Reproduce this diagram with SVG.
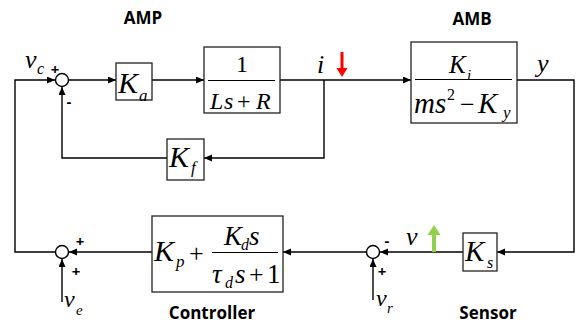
<svg xmlns="http://www.w3.org/2000/svg" width="576" height="325" viewBox="0 0 576 325">
<defs>
<style>
.ln{fill:none;stroke:#000;stroke-width:1.4}
.bx{fill:#fff;stroke:#222;stroke-width:1.3}
.fr{stroke:#000;stroke-width:1.2}
.sum{fill:#fff;stroke:#000;stroke-width:1.4}
.m{font-family:"Liberation Serif",serif;font-style:italic;fill:#000}
.r{font-family:"Liberation Serif",serif;fill:#000}
.lb{font-family:"Open Sans","Noto Sans",sans-serif;font-weight:bold;font-size:17px;fill:#000;text-anchor:middle}
.sg{font-family:"Open Sans","Noto Sans",sans-serif;font-weight:bold;font-size:15px;fill:#000;text-anchor:middle}
</style>
<marker id="ah" markerWidth="8" markerHeight="8" refX="8" refY="3.5" orient="auto" markerUnits="userSpaceOnUse">
<path d="M0,0 L8,3.5 L0,7 z" fill="#000"/>
</marker>
</defs>
<rect width="576" height="325" fill="#fff"/>

<g id="connectors">
<path class="ln" d="M55,252 L15,252 L15,80 L55,80" marker-end="url(#ah)"/>
<path class="ln" d="M68.5,80 L116,80" marker-end="url(#ah)"/>
<path class="ln" d="M152,80 L204,80" marker-end="url(#ah)"/>
<path class="ln" d="M280,80 L411,80" marker-end="url(#ah)"/>
<path class="ln" d="M324,80 L324,158 L204,158" marker-end="url(#ah)"/>
<path class="ln" d="M167,158 L62,158 L62,87" marker-end="url(#ah)"/>
<path class="ln" d="M517,80 L574,80 L574,252 L497,252" marker-end="url(#ah)"/>
<path class="ln" d="M463,252 L380,252" marker-end="url(#ah)"/>
<path class="ln" d="M366.5,252 L283,252" marker-end="url(#ah)"/>
<path class="ln" d="M152,252 L69,252" marker-end="url(#ah)"/>
<path class="ln" d="M62,302 L62,259" marker-end="url(#ah)"/>
<path class="ln" d="M373,300 L373,259" marker-end="url(#ah)"/>
</g>

<g id="sum1">
<circle class="sum" cx="62" cy="80" r="6.5"/>
<text class="sg" x="55" y="75">+</text>
<text class="sg" x="69" y="107">-</text>
</g>

<g id="sum2">
<circle class="sum" cx="62" cy="252" r="6.5"/>
<text class="sg" x="80" y="247">+</text>
<text class="sg" x="76" y="277">+</text>
</g>

<g id="sum3">
<circle class="sum" cx="373" cy="252" r="6.5"/>
<text class="sg" x="387" y="246">-</text>
<text class="sg" x="382" y="277">+</text>
</g>

<g id="labels">
<text class="lb" x="143" y="24">AMP</text>
<text class="lb" x="472" y="25">AMB</text>
<text class="lb" x="212" y="319">Controller</text>
<text class="lb" x="488" y="319">Sensor</text>
<text class="m" x="25" y="68" font-size="26">v</text>
<text class="m" x="37" y="74" font-size="16">c</text>
<text class="m" x="317" y="73" font-size="26">i</text>
<text class="m" x="537" y="72" font-size="26">y</text>
<text class="m" x="406" y="245" font-size="26">v</text>
<text class="m" x="64" y="307" font-size="24">v</text>
<text class="m" x="76" y="315" font-size="15">e</text>
<text class="m" x="376" y="306" font-size="24">v</text>
<text class="m" x="387" y="313" font-size="15">r</text>
</g>

<g id="Ka">
<rect class="bx" x="116" y="63" width="36" height="37"/>
<text class="m" x="118" y="93" font-size="30">K</text>
<text class="m" x="139" y="101" font-size="17">a</text>
</g>

<g id="plant_coil">
<rect class="bx" x="204" y="47" width="76" height="66"/>
<line class="fr" x1="208" y1="80.5" x2="275" y2="80.5"/>
<text class="r" x="242" y="72" font-size="24" text-anchor="middle">1</text>
<text class="m" x="210" y="109" font-size="24">L</text>
<text class="m" x="224" y="109" font-size="24">s</text>
<text class="r" x="237" y="109" font-size="24">+</text>
<text class="m" x="256" y="109" font-size="24">R</text>
</g>

<g id="Kf">
<rect class="bx" x="167" y="139" width="37" height="41"/>
<text class="m" x="169" y="167" font-size="30">K</text>
<text class="m" x="191" y="173" font-size="17">f</text>
</g>

<g id="AMB">
<rect class="bx" x="411" y="42" width="106" height="81"/>
<line class="fr" x1="415" y1="79.5" x2="512" y2="79.5"/>
<text class="m" x="449" y="73" font-size="25">K</text>
<text class="m" x="467" y="80" font-size="15">i</text>
<text class="m" x="414" y="113" font-size="29">m</text>
<text class="m" x="435" y="113" font-size="29">s</text>
<text class="r" x="447" y="100" font-size="16">2</text>
<text class="r" x="460" y="113" font-size="26">−</text>
<text class="m" x="478" y="113" font-size="29">K</text>
<text class="m" x="503" y="118" font-size="17">y</text>
</g>

<g id="Controller">
<rect class="bx" x="152" y="216" width="131" height="76"/>
<line class="fr" x1="212" y1="252.5" x2="278" y2="252.5"/>
<text class="m" x="154" y="261" font-size="30">K</text>
<text class="m" x="176" y="267" font-size="17">p</text>
<text class="r" x="189" y="262" font-size="26">+</text>
<text class="m" x="224" y="245" font-size="27">K</text>
<text class="m" x="241" y="250" font-size="16">d</text>
<text class="m" x="249" y="245" font-size="27">s</text>
<text class="m" x="212" y="283" font-size="27">τ</text>
<text class="m" x="225" y="288" font-size="16">d</text>
<text class="m" x="235" y="283" font-size="27">s</text>
<text class="r" x="249" y="283" font-size="26">+</text>
<text class="r" x="267" y="283" font-size="27">1</text>
</g>

<g id="Ks">
<rect class="bx" x="463" y="233" width="34" height="38"/>
<text class="m" x="465" y="261" font-size="29">K</text>
<text class="m" x="487" y="268" font-size="16">s</text>
</g>

<g id="indicators">
<path d="M340.5,52 L343.5,52 L343.5,68 L347.5,68 L342,77 L336.5,68 L340.5,68 z" fill="#ff0000"/>
<path d="M432,252 L436,252 L436,235 L440.5,235 L434,225 L427.5,235 L432,235 z" fill="#92d050"/>
</g>
</svg>
